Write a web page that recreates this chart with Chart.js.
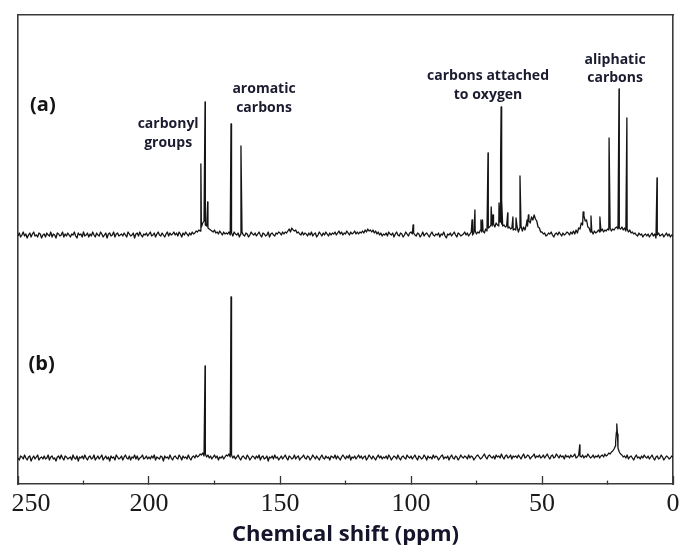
<!DOCTYPE html>
<html><head><meta charset="utf-8">
<script src="https://cdn.jsdelivr.net/npm/chart.js@4.4.1/dist/chart.umd.min.js"></script>
<style>html,body{margin:0;padding:0;background:#fff}</style>
</head><body>
<canvas id="c" width="680" height="545"></canvas>
<script>
// Tick positions (ppm) and labels
const tickValues = [0, 25, 50, 75, 100, 125, 150, 175, 200, 225, 250];
const tickLabels = {0: '0', 50: '50', 100: '100', 150: '150', 200: '200', 250: '250'};

// Baseline samples every 0.5 ppm from 250 down to 0 (px-like units)
const baselineA = [
 -1,2,-2,0,3,-1,1,-3,0,2,-2,1,3,-1,0,-2,2,1,-3,0,
 1,-2,2,0,-1,3,-2,1,0,-3,2,1,-1,0,3,-2,1,-1,2,0,
 -2,1,0,3,-1,-3,2,0,1,-2,3,-1,0,2,-2,1,-1,3,0,-2,
 2,0,-1,3,1,-2,0,2,-3,1,2,-1,0,3,-2,1,2,-1,0,1,
 -1,2,0,-2,3,1,-1,0,2,-3,1,2,-1,3,0,-2,1,0,2,-1,
 1,3,-1,0,2,-2,1,3,0,-1,2,0,-2,1,3,-1,2,0,1,3,
 0,2,-1,3,1,-2,2,0,3,1,-1,2,0,3,1,2,4,3,5,4,
 8,12,14,10,9,7,6,5,4,3,5,2,3,1,4,2,0,3,1,2,
 1,3,0,2,-1,3,1,0,2,-2,1,3,0,-1,2,1,-2,0,3,1,
 0,2,-1,1,3,0,-2,2,1,-1,0,3,-2,1,2,0,-1,2,1,3,
 2,0,3,1,3,2,4,6,3,7,5,4,5,2,3,1,0,3,0,2,
 1,-1,2,0,3,-1,1,2,-2,0,3,1,-1,2,0,3,1,-1,2,0,
 2,1,3,0,2,4,1,3,0,2,1,4,2,0,3,1,2,4,1,3,
 1,3,2,4,2,5,3,6,4,5,3,5,2,4,1,3,0,2,-1,1,
 0,2,-1,3,1,0,2,-2,1,3,0,-1,2,1,-2,0,3,1,-1,2,
 3,1,2,0,-1,2,1,-2,0,3,-1,1,2,0,-2,1,3,0,-1,1,
 0,2,-2,1,0,3,-1,-3,1,0,2,-1,1,3,0,-2,2,1,-1,0,
 1,3,0,2,-1,1,3,0,2,4,1,3,2,5,3,4,2,6,4,7,
 8,10,9,11,8,12,10,9,13,11,9,10,8,9,7,8,6,7,5,6,
 5,8,3,7,9,4,8,5,10,9,14,12,18,15,20,16,14,8,7,3,
 3,1,2,-1,0,2,1,3,0,-2,1,2,0,3,1,-1,2,0,1,3,
 2,0,3,1,4,1,5,2,7,6,12,10,19,14,15,8,7,3,4,1,
 4,2,3,5,3,4,6,3,5,4,6,5,7,4,6,5,7,8,6,7,
 6,8,5,7,4,6,3,5,2,3,1,2,0,-1,2,0,1,-2,0,1,
 -1,1,-2,0,2,-1,1,-3,0,2,-1,0,1,-2,0,2,-1,1,-2,0,
 -1
];
const peaksAPpm    = [180.2, 178.6, 177.6, 168.7, 164.9, 99.2, 76.7, 75.6, 73.3, 72.7, 70.6, 69.4, 68.7, 66.4, 65.8, 65.6, 65.3, 63.1, 61.1, 59.9, 58.4, 55.7, 55.2, 34.3, 31.3, 27.9, 24.4, 20.6, 17.6, 6.1];
const peaksAHeight = [71,    133,   33,    111,   89,    10,   15,   25,   15,   15,   82,   28,   20,   32,   76,   128,  35,   22,   18,   17,   59,   15,   20,   23,   19,   18,   97,   146,  117,  57];

const baselineB = [
 0,-2,2,1,-1,3,0,-2,1,2,-3,0,2,-1,1,3,-2,0,1,-1,
 2,-1,0,3,-2,1,2,-1,0,-3,1,2,-1,3,0,-2,2,1,-1,0,
 1,-2,3,0,-1,2,-3,1,0,2,-1,3,0,-2,1,2,-1,0,3,-2,
 0,2,-1,1,3,-2,0,2,-1,1,-3,2,0,1,-2,3,1,-1,0,2,
 -2,1,3,0,-1,2,-2,1,0,3,-1,2,-2,0,1,3,-1,0,2,-1,
 1,-1,2,0,3,-2,1,0,-1,2,1,-3,2,0,1,-1,3,0,-2,1,
 2,0,-1,3,1,-2,2,0,1,-1,3,0,-2,1,2,0,3,1,2,4,
 3,5,2,4,1,3,0,2,-1,1,3,0,2,-2,1,0,2,-1,1,3,
 2,4,1,3,0,2,-1,1,3,0,-2,1,2,0,-1,3,1,-2,0,2,
 1,-1,2,0,3,-2,1,2,-1,0,2,-3,1,0,2,-1,3,0,1,-2,
 0,2,-1,1,3,0,-2,2,1,-1,0,3,-1,1,2,-2,0,1,3,0,
 -1,2,1,-2,0,3,1,-1,2,0,-2,1,3,0,-1,2,0,1,-2,2,
 1,0,3,-1,2,0,-2,1,3,1,-1,2,0,3,-2,1,0,2,-1,1,
 3,0,2,-1,1,2,-2,0,3,1,-1,2,0,-2,1,3,0,2,-1,1,
 0,2,-1,3,1,-2,0,2,1,-1,3,0,-2,1,2,0,-1,3,1,0,
 2,-1,1,3,0,-2,2,1,-1,0,3,1,-2,2,0,1,-1,3,0,2,
 1,-2,0,2,3,-1,1,0,2,-2,1,3,0,-1,2,1,-2,0,3,1,
 0,2,1,-1,3,0,2,1,-2,0,2,3,1,-1,0,2,4,1,-1,2,
 3,1,0,2,-1,3,1,2,0,4,1,-1,2,3,0,1,3,-1,2,1,
 2,0,3,1,-1,2,4,0,1,3,2,-1,1,2,4,0,2,1,3,0,
 1,3,0,2,4,1,-1,2,3,0,1,4,2,0,3,1,2,-1,3,1,
 2,0,3,1,2,4,0,1,3,2,1,3,0,2,1,4,2,0,1,3,
 0,2,1,3,0,2,3,1,4,2,3,5,4,6,7,9,12,30,10,6,
 4,3,1,2,0,3,-1,1,2,0,-2,1,3,0,1,-1,2,0,3,1,
 0,2,-1,1,3,0,-2,1,2,-1,0,3,1,-2,0,2,1,-1,0,2,
 1
];
const peaksBPpm    = [178.6, 168.7, 35.6, 21.9, 21.6, 21.4, 21.2];
const peaksBHeight = [92,    161,   13,   16,   26,   34,   24];

// vertical placement of each trace (y-axis units)
const OFFSET_A = 249, OFFSET_B = 26;
const STEP = 0.5;

function buildTrace(base, pp, ph, off) {
  const pts = base.map((v, i) => ({x: 250 - i * STEP, y: off + v}));
  pp.forEach((p, k) => pts.push({x: p, y: off + ph[k]}));
  pts.sort((a, b) => b.x - a.x);
  return pts;
}

const annotations = [
  {lines: ['carbonyl', 'groups'], ppm: 192.7, y: [360, 341]},
  {lines: ['aromatic', 'carbons'], ppm: 156.1, y: [395, 376]},
  {lines: ['carbons attached', 'to oxygen'], ppm: 70.6, y: [408, 389]},
  {lines: ['aliphatic', 'carbons'], ppm: 22.1, y: [424, 406]}
];
const panelLabels = [
  {text: '(a)', ppm: 240.5, y: 379},
  {text: '(b)', ppm: 241.0, y: 120}
];

const textPlugin = {
  id: 'texts',
  afterDatasetsDraw(chart) {
    const {ctx, scales: {x, y}} = chart;
    ctx.save();
    ctx.fillStyle = '#1b1b30';
    ctx.textAlign = 'center';
    ctx.textBaseline = 'middle';
    ctx.font = 'bold 14px "Open Sans"';
    annotations.forEach(a => a.lines.forEach((t, k) => ctx.fillText(t, x.getPixelForValue(a.ppm), y.getPixelForValue(a.y[k]))));
    ctx.font = 'bold 20px "Open Sans"';
    ctx.fillStyle = '#141414';
    panelLabels.forEach(p => ctx.fillText(p.text, x.getPixelForValue(p.ppm), y.getPixelForValue(p.y)));
    ctx.restore();
  }
};

const frameBorder = {display: true, color: '#3a3a3a', width: 1.6};
const hiddenAxis = (pos, max) => ({type: 'linear', position: pos, min: 0, max: max,
  ticks: {display: false}, grid: {display: false, drawTicks: false}, border: frameBorder,
  afterFit: s => { if (s.isHorizontal()) s.height = 0; else s.width = 0; }});

new Chart(document.getElementById('c'), {
  type: 'line',
  data: {
    datasets: [
      {label: '(a)', data: buildTrace(baselineA, peaksAPpm, peaksAHeight, OFFSET_A)},
      {label: '(b)', data: buildTrace(baselineB, peaksBPpm, peaksBHeight, OFFSET_B)}
    ]
  },
  options: {
    responsive: false,
    animation: false,
    layout: {autoPadding: false, padding: {left: 18, right: 7, top: 15, bottom: 0}},
    elements: {
      line: {borderColor: '#141414', borderWidth: 1.3, tension: 0, borderJoinStyle: 'round', fill: false},
      point: {radius: 0}
    },
    plugins: {legend: {display: false}, tooltip: {enabled: false}},
    scales: {
      x: {
        type: 'linear', min: 0, max: 250, reverse: true, position: 'bottom',
        afterBuildTicks: s => { s.ticks = tickValues.map(v => ({value: v})); },
        afterFit: s => { s.paddingLeft = 0; s.paddingRight = 0; s.height = 61; },
        ticks: {
          autoSkip: false, maxRotation: 0, padding: 12.4, color: '#1a1a1a',
          font: {family: '"Liberation Serif", serif', size: 26},
          callback: v => v === 250 ? '\u00a0\u00a0\u00a0\u00a0250' : (tickLabels[v] ?? '')
        },
        grid: {
          display: true, drawOnChartArea: false, drawTicks: true, tickLength: -8,
          tickColor: '#333', tickWidth: 1.3,
          tickBorderDash: c => (c.tick && c.tick.value % 50 !== 0) ? [4, 40] : []
        },
        border: frameBorder,
        title: {display: true, text: 'Chemical shift (ppm)', color: '#14142a', padding: {top: 0, bottom: -3},
                font: {family: '"Open Sans"', size: 22, weight: 'bold'}}
      },
      y: hiddenAxis('left', 469),
      yR: hiddenAxis('right', 1),
      xT: hiddenAxis('top', 1)
    }
  },
  plugins: [textPlugin]
});
</script>
</body></html>
